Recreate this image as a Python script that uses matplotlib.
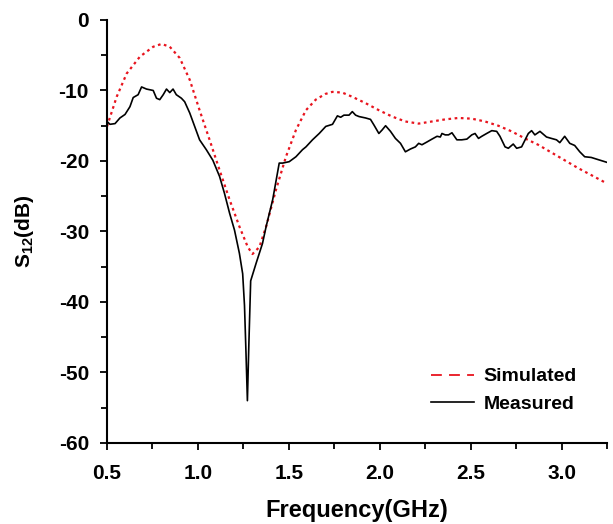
import numpy as np
import matplotlib.pyplot as plt
from matplotlib.lines import Line2D

plt.rcParams['font.family'] = ['Liberation Sans', 'DejaVu Sans']
plt.rcParams['font.weight'] = 'bold'
plt.rcParams['mathtext.fontset'] = 'custom'
plt.rcParams['mathtext.bf'] = 'Liberation Sans:bold'

# simulated S12 (red dotted)
sim_f = [0.50, 0.553, 0.608, 0.681, 0.754, 0.80, 0.845, 0.90, 0.955, 1.009, 1.064,
         1.119, 1.174, 1.228, 1.274, 1.30, 1.338, 1.375, 1.429, 1.484, 1.539, 1.594,
         1.648, 1.70, 1.739, 1.794, 1.849, 1.922, 1.995, 2.068, 2.141, 2.214, 2.287,
         2.36, 2.433, 2.506, 2.579, 2.652, 2.725, 2.798, 2.871, 2.944, 3.017, 3.09,
         3.163, 3.25]
sim_db = [-15.1, -10.9, -7.6, -5.2, -3.8, -3.4, -3.8, -5.4, -8.5, -12.8, -17.0,
          -21.3, -25.5, -29.3, -32.2, -33.2, -32.2, -29.3, -24.1, -19.4, -15.6, -12.8,
          -11.3, -10.5, -10.2, -10.3, -10.9, -11.8, -12.8, -13.7, -14.4, -14.7, -14.4,
          -14.1, -13.9, -14.0, -14.4, -15.0, -15.8, -16.8, -17.7, -18.8, -19.9, -21.0,
          -22.0, -23.2]

# measured S12 (black solid)
meas_f = [0.50, 0.516, 0.544, 0.571, 0.599, 0.626, 0.644, 0.671, 0.69, 0.717, 0.754,
          0.772, 0.79, 0.809, 0.827, 0.845, 0.863, 0.881, 0.909, 0.927, 0.955, 0.982,
          1.009, 1.046, 1.082, 1.119, 1.146, 1.174, 1.201, 1.228, 1.246, 1.256, 1.264,
          1.272, 1.28, 1.29, 1.32, 1.355, 1.375, 1.411, 1.447, 1.466, 1.502, 1.539,
          1.575, 1.594, 1.630, 1.667, 1.703, 1.74, 1.767, 1.785, 1.803, 1.831, 1.849,
          1.867, 1.886, 1.922, 1.949, 1.968, 1.995, 2.013, 2.032, 2.059, 2.086, 2.114,
          2.141, 2.169, 2.196, 2.214, 2.232, 2.26, 2.287, 2.315, 2.333, 2.342, 2.36,
          2.378, 2.397, 2.424, 2.451, 2.479, 2.506, 2.524, 2.543, 2.561, 2.588, 2.616,
          2.643, 2.661, 2.689, 2.707, 2.734, 2.753, 2.78, 2.817, 2.835, 2.853, 2.881,
          2.917, 2.944, 2.972, 2.99, 3.017, 3.045, 3.072, 3.1, 3.127, 3.163, 3.2, 3.25]
meas_db = [-14.4, -14.8, -14.7, -13.9, -13.4, -12.3, -11.0, -10.6, -9.5, -9.8, -10.0,
           -11.1, -11.3, -10.6, -9.8, -10.3, -9.8, -10.6, -11.1, -11.6, -13.2, -15.1,
           -17.0, -18.4, -19.9, -22.2, -24.6, -27.4, -29.8, -33.1, -36.0, -40.5, -47.0,
           -54.0, -46.0, -37.0, -34.5, -31.7, -29.3, -25.5, -20.3, -20.3, -20.1, -19.4,
           -18.4, -18.0, -17.0, -16.1, -15.1, -14.8, -13.6, -13.8, -13.5, -13.5, -13.0,
           -13.5, -13.7, -13.9, -14.1, -14.9, -16.1, -15.6, -15.0, -15.8, -16.8, -17.5,
           -18.7, -18.3, -18.0, -17.5, -17.7, -17.3, -16.9, -16.5, -16.6, -16.1, -16.3,
           -16.3, -16.0, -17.0, -17.0, -16.9, -16.3, -16.1, -16.8, -16.5, -16.1, -15.7,
           -15.8, -16.5, -18.0, -18.2, -17.6, -18.2, -18.0, -16.1, -15.7, -16.3, -15.8,
           -16.6, -16.8, -17.0, -17.4, -16.5, -17.5, -17.8, -18.7, -19.4, -19.5, -19.8, -20.2]

x_ticks = [0.5, 1.0, 1.5, 2.0, 2.5, 3.0]
y_ticks = [0, -10, -20, -30, -40, -50, -60]

fig = plt.figure(figsize=(6.13, 5.24), dpi=100)
ax = fig.add_axes([0.1746, 0.1546, 0.8157, 0.8073])

ax.plot(sim_f, sim_db, color='#e8141e', lw=1.6, linestyle=(0, (1.2, 1.6)))
ax.plot(meas_f, meas_db, color='black', lw=1.2)

ax.set_xlim(0.5, 3.25)
ax.set_ylim(-60, 0)
ax.set_xticks(x_ticks)
ax.set_yticks(y_ticks)
ax.set_xticks(np.arange(0.75, 3.3, 0.5), minor=True)
ax.set_yticks(np.arange(-55, 0, 10), minor=True)
ax.set_xticklabels([f'{v:.1f}' for v in x_ticks])
ax.set_yticklabels([str(v) for v in y_ticks])
ax.tick_params(which='major', length=5, width=1.3, labelsize=15)
ax.tick_params(axis='x', which='major', pad=10)
ax.tick_params(axis='y', which='major', pad=8)
ax.tick_params(which='minor', length=4, width=1.3)

for s in ['top', 'right']:
    ax.spines[s].set_visible(False)
for s in ['left', 'bottom']:
    ax.spines[s].set_linewidth(1.5)

ax.set_xlabel('Frequency(GHz)', fontsize=17, fontweight='bold', labelpad=12)
ax.set_ylabel(r'S$_{\mathbf{12}}$(dB)', fontsize=15, fontweight='bold', labelpad=16)

handles = [Line2D([], [], color='#e8141e', lw=1.3, linestyle=(0, (6, 4))),
           Line2D([], [], color='black', lw=1.2)]
ax.legend(handles, ['Simulated', 'Measured'], loc='lower right',
          bbox_to_anchor=(0.975, 0.03), frameon=False, fontsize=14,
          handlelength=2.2, handletextpad=0.5, labelspacing=0.5)

fig.savefig('out.png', dpi=100)
